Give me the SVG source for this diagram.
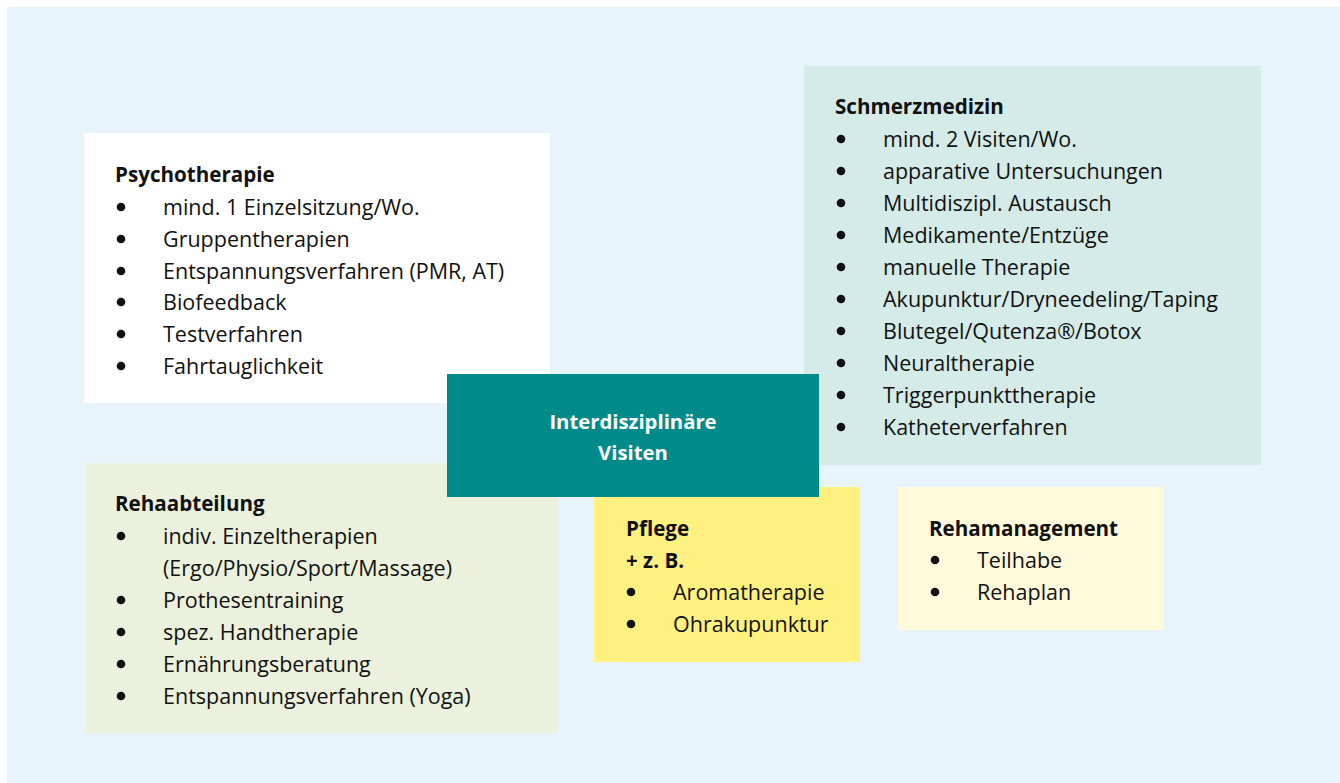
<svg xmlns="http://www.w3.org/2000/svg" width="1340" height="783" viewBox="0 0 1340 783">
<style>
.t{font-family:"Open Sans","Liberation Sans",sans-serif;font-size:21.5px;fill:#111}
.h{font-family:"Open Sans","Liberation Sans",sans-serif;font-size:20.6px;font-weight:bold;fill:#111}
.c{font-family:"Open Sans","Liberation Sans",sans-serif;font-size:20.3px;font-weight:bold;fill:#fff;text-anchor:middle}
</style>
<defs>
<circle id="b" r="4.3" fill="#111"/>
</defs>
<rect x="0" y="0" width="1340" height="783" fill="#fff"/>
<rect x="7" y="7" width="1333" height="776" fill="#E8F4FC"/>
<g id="psychotherapie">
<rect x="84" y="133" width="466" height="270" fill="#fff"/>
<text class="h" x="115" y="182">Psychotherapie</text>
<use href="#b" x="121" y="207"/><text class="t" x="163" y="215">mind. 1 Einzelsitzung/Wo.</text>
<use href="#b" x="121" y="239"/><text class="t" x="163" y="247">Gruppentherapien</text>
<use href="#b" x="121" y="271"/><text class="t" x="163" y="279">Entspannungsverfahren (PMR, AT)</text>
<use href="#b" x="121" y="302"/><text class="t" x="163" y="310">Biofeedback</text>
<use href="#b" x="121" y="334"/><text class="t" x="163" y="342">Testverfahren</text>
<use href="#b" x="121" y="366"/><text class="t" x="163" y="374">Fahrtauglichkeit</text>
</g>
<g id="schmerzmedizin">
<rect x="804" y="66" width="457" height="399" fill="#D5EBE8"/>
<text class="h" x="835" y="114">Schmerzmedizin</text>
<use href="#b" x="841" y="139"/><text class="t" x="883" y="147">mind. 2 Visiten/Wo.</text>
<use href="#b" x="841" y="171"/><text class="t" x="883" y="179">apparative Untersuchungen</text>
<use href="#b" x="841" y="203"/><text class="t" x="883" y="211">Multidiszipl. Austausch</text>
<use href="#b" x="841" y="235"/><text class="t" x="883" y="243">Medikamente/Entzüge</text>
<use href="#b" x="841" y="267"/><text class="t" x="883" y="275">manuelle Therapie</text>
<use href="#b" x="841" y="299"/><text class="t" x="883" y="307">Akupunktur/Dryneedeling/Taping</text>
<use href="#b" x="841" y="331"/><text class="t" x="883" y="339">Blutegel/Qutenza®/Botox</text>
<use href="#b" x="841" y="363"/><text class="t" x="883" y="371">Neuraltherapie</text>
<use href="#b" x="841" y="395"/><text class="t" x="883" y="403">Triggerpunkttherapie</text>
<use href="#b" x="841" y="427"/><text class="t" x="883" y="435">Katheterverfahren</text>
</g>
<g id="rehaabteilung">
<rect x="85" y="463" width="473" height="270" fill="#EBF1DC"/>
<text class="h" x="115" y="511">Rehaabteilung</text>
<use href="#b" x="121" y="536"/><text class="t" x="163" y="544">indiv. Einzeltherapien</text>
<text class="t" x="163" y="576">(Ergo/Physio/Sport/Massage)</text>
<use href="#b" x="121" y="600"/><text class="t" x="163" y="608">Prothesentraining</text>
<use href="#b" x="121" y="632"/><text class="t" x="163" y="640">spez. Handtherapie</text>
<use href="#b" x="121" y="664"/><text class="t" x="163" y="672">Ernährungsberatung</text>
<use href="#b" x="121" y="696"/><text class="t" x="163" y="704">Entspannungsverfahren (Yoga)</text>
</g>
<g id="pflege">
<rect x="594" y="487" width="266" height="175" fill="#FFF17F"/>
<text class="h" x="626" y="536">Pflege</text>
<text class="h" x="626" y="568">+ z. B.</text>
<use href="#b" x="631" y="592"/><text class="t" x="673" y="600">Aromatherapie</text>
<use href="#b" x="631" y="624"/><text class="t" x="673" y="632">Ohrakupunktur</text>
</g>
<g id="rehamanagement">
<rect x="898" y="487" width="266" height="143" fill="#FFFADB"/>
<text class="h" x="929" y="536">Rehamanagement</text>
<use href="#b" x="935" y="560"/><text class="t" x="977" y="568">Teilhabe</text>
<use href="#b" x="935" y="592"/><text class="t" x="977" y="600">Rehaplan</text>
</g>
<g id="visiten">
<rect x="447" y="374" width="372" height="123" fill="#008B8A"/>
<text class="c" x="633" y="429">Interdisziplinäre</text>
<text class="c" x="633" y="460">Visiten</text>
</g>
<g id="connectors"></g>
</svg>
